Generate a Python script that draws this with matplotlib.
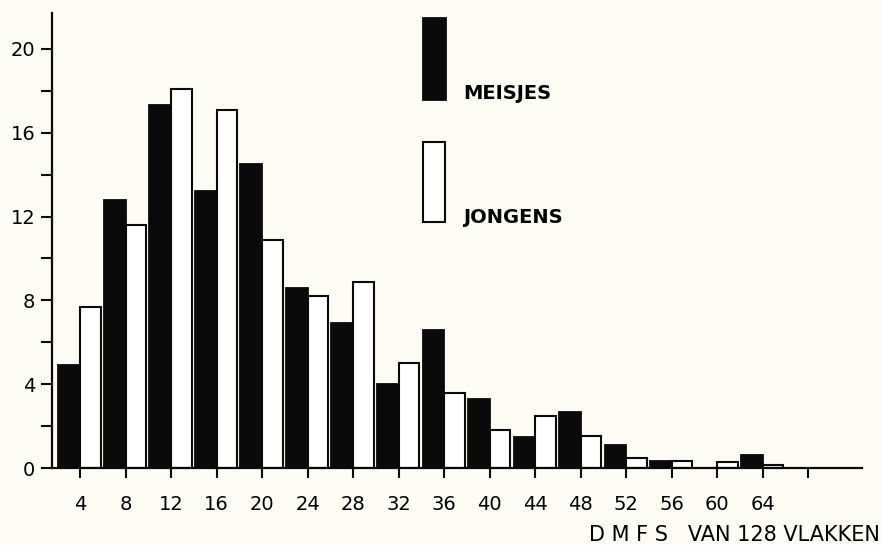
import matplotlib.pyplot as plt
from matplotlib.patches import Rectangle

# DMFS-klassen (middens) en percentages
klassen = [4, 8, 12, 16, 20, 24, 28, 32, 36, 40, 44, 48, 52, 56, 60, 64]
meisjes = [4.9, 12.8, 17.3, 13.2, 14.5, 8.6, 6.9, 4.0, 6.6, 3.3, 1.5, 2.7, 1.1, 0.35, 0.0, 0.65]
jongens = [7.7, 11.6, 18.1, 17.1, 10.9, 8.2, 8.9, 5.0, 3.6, 1.8, 2.5, 1.55, 0.5, 0.35, 0.3, 0.15]
x_ticks = [4, 8, 12, 16, 20, 24, 28, 32, 36, 40, 44, 48, 52, 56, 60, 64, 68]
x_labels = ['4', '8', '12', '16', '20', '24', '28', '32', '36', '40', '44', '48',
            '52', '56', '60', '64', '']
y_major = [0, 4, 8, 12, 16, 20]
y_minor = [2, 6, 10, 14, 18]

bg = '#fcfcf4'
plt.rcParams['font.family'] = ['DejaVu Sans']

fig = plt.figure(figsize=(8.82, 5.45), dpi=100, facecolor=bg)
ax = fig.add_axes([0.059, 0.141, 0.918, 0.835], facecolor=bg)

ax.bar([k - 1.9 for k in klassen], meisjes, width=1.9, align='edge',
       color='#0a0a0a', edgecolor='#0a0a0a', linewidth=1.3)
ax.bar(klassen, jongens, width=1.8, align='edge',
       color='white', edgecolor='#0a0a0a', linewidth=1.5)

ax.set_xlim(1.54, 72.7)
ax.set_ylim(0, 21.7)

for s in ['top', 'right']:
    ax.spines[s].set_visible(False)
for s in ['left', 'bottom']:
    ax.spines[s].set_linewidth(1.6)
    ax.spines[s].set_color('#0a0a0a')

ax.set_xticks(x_ticks)
ax.set_xticklabels(x_labels)
ax.set_yticks(y_major)
ax.set_yticks(y_minor, minor=True)
ax.tick_params(axis='y', which='both', length=8, width=1.5, pad=4,
               labelsize=14, color='#0a0a0a')
ax.tick_params(axis='x', length=7, width=1.5, pad=12, labelsize=14,
               color='#0a0a0a')

# legenda als losse balkjes
fig.add_artist(Rectangle((0.4796, 0.8165), 0.026, 0.1505, transform=fig.transFigure,
                         facecolor='#0a0a0a', edgecolor='#0a0a0a', lw=1.3))
fig.add_artist(Rectangle((0.4796, 0.5927), 0.025, 0.1468, transform=fig.transFigure,
                         facecolor='white', edgecolor='#0a0a0a', lw=1.5))
fig.text(0.525, 0.8178, 'MEISJES', fontsize=14, fontweight='bold', va='baseline')
fig.text(0.525, 0.5914, 'JONGENS', fontsize=14, fontweight='bold', va='baseline')

fig.text(0.998, 0.007, 'D M F S   VAN 128 VLAKKEN', fontsize=15,
         ha='right', va='baseline')

fig.savefig('out.png', dpi=100, facecolor=bg)
